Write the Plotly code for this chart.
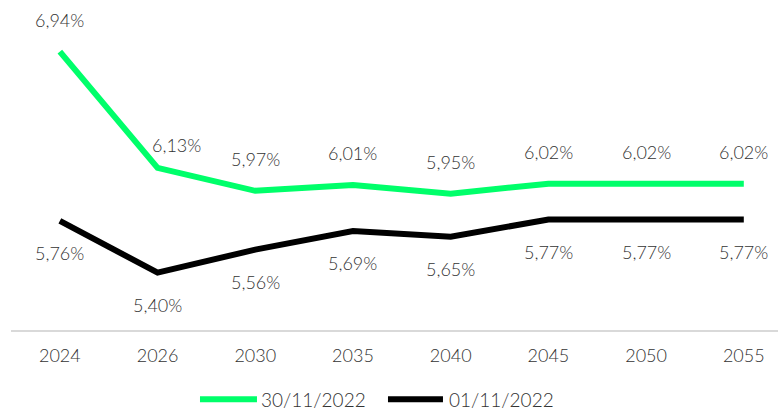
import plotly.graph_objects as go

years = ["2024", "2026", "2030", "2035", "2040", "2045", "2050", "2055"]
curve_nov30 = [6.94, 6.13, 5.97, 6.01, 5.95, 6.02, 6.02, 6.02]
curve_nov01 = [5.76, 5.40, 5.56, 5.69, 5.65, 5.77, 5.77, 5.77]
series_names = ["30/11/2022", "01/11/2022"]

GREEN = "#00FF6A"
BLACK = "#000000"
FONT = dict(family="Lato", size=18, color="#333333", weight=300)


def pct(v):
    return f"{v:.2f}%".replace(".", ",")


fig = go.Figure()
fig.add_trace(go.Scatter(x=years, y=curve_nov30, mode="lines", name=series_names[0],
                         line=dict(color=GREEN, width=6)))
fig.add_trace(go.Scatter(x=years, y=curve_nov01, mode="lines", name=series_names[1],
                         line=dict(color=BLACK, width=6)))

# data labels: green above, black below (x given as category index)
for i, v in enumerate(curve_nov30):
    xs, ys = (19, 23) if i == 1 else (0, 32)
    fig.add_annotation(x=i, y=v, text=pct(v), showarrow=False,
                       xshift=xs, yshift=ys, font=FONT)
for i, v in enumerate(curve_nov01):
    fig.add_annotation(x=i, y=v, text=pct(v), showarrow=False,
                       yshift=-32, font=FONT)

# hand-made legend below the axis (longer line keys than plotly's own)
legend_font = dict(family="Lato", size=19, color="#333333", weight=300)
leg_y = -0.21
for (x0, x1, xt), name, col in zip([(0.2464, 0.3207, 0.3233), (0.4915, 0.5632, 0.5684)],
                                   series_names, [GREEN, BLACK]):
    fig.add_shape(type="line", xref="paper", yref="paper", x0=x0, x1=x1,
                  y0=leg_y, y1=leg_y, line=dict(color=col, width=6))
    fig.add_annotation(xref="paper", yref="paper", x=xt, y=leg_y, text=name,
                       showarrow=False, xanchor="left", yanchor="middle",
                       font=legend_font)

fig.update_xaxes(type="category", range=[-0.5, 7.35], showgrid=False,
                 showline=True, linecolor="#d9d9d9", linewidth=2,
                 ticks="", tickfont=FONT, ticklabelstandoff=8, automargin=False)
fig.update_yaxes(range=[5.0, 7.3], showgrid=False, zeroline=False,
                 showticklabels=False, showline=False, automargin=False)

fig.update_layout(
    width=778, height=412,
    margin=dict(l=11, r=0, t=0, b=82, autoexpand=False),
    plot_bgcolor="white", paper_bgcolor="white",
    showlegend=False,
)

fig.write_html("out.html", config={"displayModeBar": False},
               post_script="document.body.style.margin='0';")
